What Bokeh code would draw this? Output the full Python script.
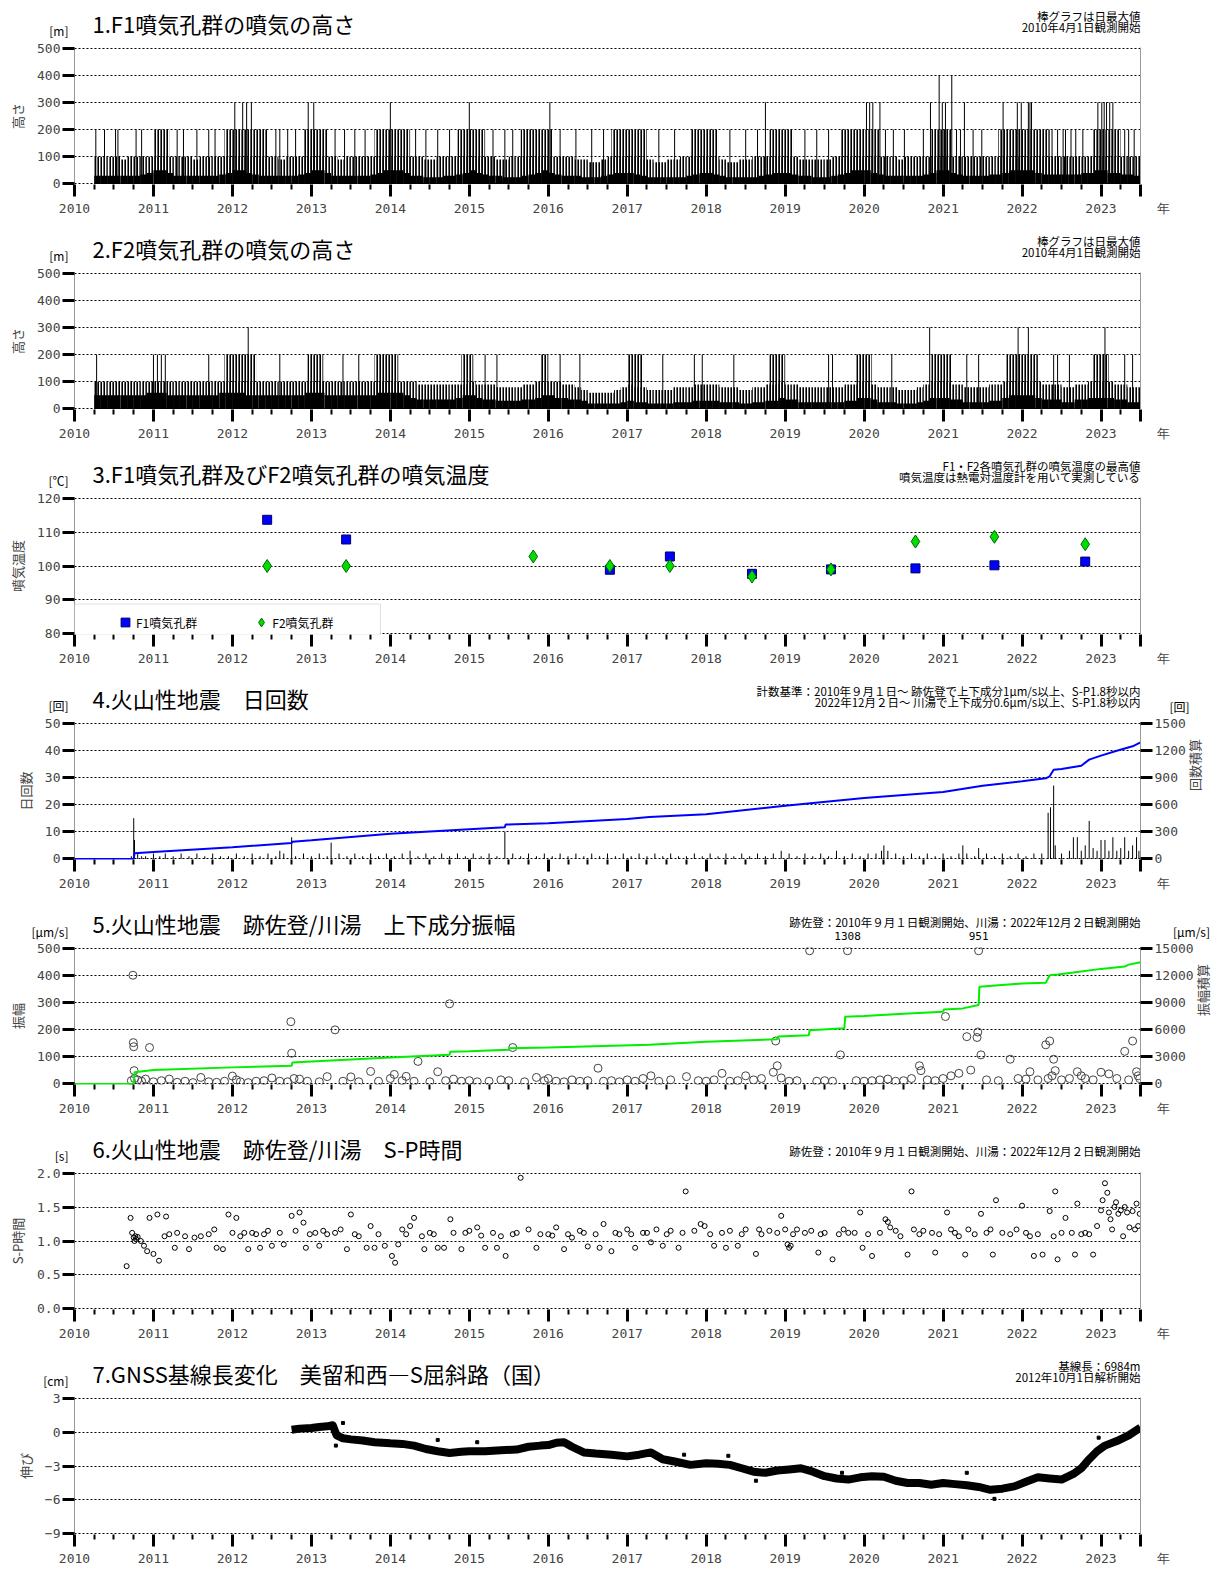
import math
import numpy as np
from bokeh.plotting import figure
from bokeh.models import (Range1d, FixedTicker, LinearAxis, Legend, LegendItem,
                          BoxAnnotation, PrintfTickFormatter)
from bokeh.embed import file_html
from bokeh.resources import INLINE
from bokeh.core.properties import value

JP = "Noto Sans CJK JP"
MONO = "DejaVu Sans Mono"
X0, X1 = 2010.0, 2023.5
YEARS = list(range(2010, 2024))
QUARTERS = [y + q / 4 for y in range(2010, 2024) for q in (1, 2, 3) if y + q / 4 < 2023.5]

# ---------------- data ----------------
MONTH0 = 2010.25   # monthly series start (2010-04), 159 months
f1_mass = [30, 30, 30, 30, 30, 30, 30, 35, 40,
           50, 50, 40, 30, 30, 30, 30, 30, 30, 30, 35, 40,
           50, 50, 40, 35, 30, 30, 30, 30, 30, 30, 35, 40,
           50, 50, 40, 30, 30, 30, 30, 30, 30, 35, 40, 50,
           50, 50, 40, 30, 30, 25, 25, 25, 30, 30, 35, 40,
           50, 40, 35, 30, 30, 25, 25, 25, 30, 35, 40, 50,
           40, 35, 30, 30, 30, 25, 25, 25, 30, 35, 40, 40,
           40, 35, 30, 25, 25, 25, 25, 25, 25, 30, 35, 40,
           40, 35, 30, 25, 25, 25, 25, 25, 30, 35, 40, 40,
           40, 35, 30, 30, 25, 25, 25, 30, 35, 40, 50, 50,
           50, 40, 35, 30, 30, 30, 30, 30, 30, 35, 40, 50,
           50, 40, 35, 30, 30, 30, 30, 35, 35, 40, 50, 50,
           50, 50, 40, 35, 35, 35, 35, 35, 35, 40, 40, 50,
           50, 40, 40, 35, 35, 30]
f1_upper = [100, 100, 100, 100, 90, 100, 100, 100, 100,
            100, 100, 100, 100, 100, 100, 90, 100, 100, 100, 100, 100,
            100, 100, 100, 100, 100, 100, 100, 90, 100, 100, 100, 100,
            100, 100, 100, 100, 90, 100, 100, 100, 100, 100, 100, 100,
            100, 100, 100, 100, 100, 90, 90, 100, 100, 100, 100, 100,
            100, 100, 100, 100, 90, 90, 100, 100, 100, 100, 100, 100,
            100, 100, 100, 100, 90, 90, 80, 80, 90, 100, 100, 100,
            100, 100, 90, 90, 80, 80, 90, 90, 100, 100, 100, 100,
            100, 100, 90, 80, 80, 90, 90, 100, 100, 100, 100, 100,
            100, 100, 90, 90, 90, 90, 90, 100, 100, 100, 100, 100,
            100, 100, 100, 100, 100, 90, 100, 100, 100, 100, 100, 100,
            100, 100, 100, 100, 100, 100, 100, 100, 100, 100, 100, 100,
            100, 100, 100, 100, 100, 100, 100, 100, 100, 100, 100, 100,
            100, 100, 100, 100, 100, 100]
f1_cluster_start = [2011.0, 2011.9, 2012.9, 2013.8, 2014.85, 2015.65, 2016.8, 2017.8,
                    2018.8, 2019.7, 2020.85, 2021.7, 2022.9]
f1_cluster_end = [2011.2, 2012.45, 2013.2, 2014.25, 2015.2, 2016.05, 2017.25, 2018.15,
                  2019.1, 2020.2, 2021.1, 2022.35, 2023.25]
f1_200 = [2010.27, 2010.38, 2010.52, 2010.55, 2010.78, 2010.85, 2011.3, 2011.38, 2011.55,
          2011.7, 2011.78, 2012.55, 2012.6, 2012.7, 2012.8, 2013.3, 2013.42, 2013.55, 2013.68,
          2014.32, 2014.45, 2014.6, 2014.75, 2015.3, 2015.45, 2015.55, 2016.15, 2016.35,
          2016.55, 2016.7, 2017.4, 2017.6, 2018.3, 2018.5, 2018.65, 2019.25, 2019.4, 2019.55,
          2020.27, 2020.37, 2020.51, 2020.75, 2021.17, 2021.22, 2021.38, 2021.49, 2022.38,
          2022.45, 2022.52, 2022.55, 2022.62, 2022.68, 2022.77, 2023.3, 2023.35, 2023.42]
f1_300 = [2012.03, 2012.13, 2012.18, 2012.24, 2012.96, 2013.03, 2014.0, 2015.0, 2016.02,
          2018.75, 2020.03, 2020.07, 2020.11, 2020.2, 2020.84, 2020.99, 2021.03, 2021.27,
          2021.76, 2021.94, 2021.99, 2022.08, 2022.1, 2022.12, 2022.96, 2023.01, 2023.04,
          2023.07, 2023.11, 2023.15]
f1_400 = [2020.95, 2021.11]

f2_mass = [50, 50, 50, 50, 50, 50, 50, 50, 60,
           60, 60, 50, 50, 50, 50, 50, 50, 50, 50, 60, 60,
           60, 60, 50, 50, 50, 50, 50, 50, 50, 50, 50, 60,
           60, 60, 50, 50, 50, 50, 50, 50, 50, 50, 60, 60,
           60, 60, 50, 40, 35, 35, 35, 35, 35, 35, 40, 50,
           50, 40, 35, 35, 30, 30, 30, 30, 35, 35, 40, 50,
           50, 40, 40, 35, 35, 30, 20, 20, 20, 20, 20, 25,
           30, 25, 25, 20, 20, 20, 20, 25, 25, 25, 30, 30,
           30, 30, 25, 25, 25, 20, 20, 25, 25, 30, 30, 40,
           35, 35, 25, 25, 25, 25, 25, 25, 25, 30, 30, 40,
           40, 35, 25, 25, 25, 20, 20, 20, 25, 30, 40, 40,
           40, 35, 35, 25, 25, 25, 25, 30, 30, 40, 50, 50,
           50, 50, 40, 35, 35, 35, 25, 25, 35, 35, 40, 40,
           40, 40, 35, 35, 25, 25]
f2_upper = [100] * 9 + [100] * 12 + [100] * 12 + [100] * 12 + [100, 100, 100, 100] + [90] * 8 + \
           [100, 90, 90, 90, 80, 80, 80, 80, 90, 90, 100, 100] + \
           [100, 100, 90, 90, 80, 70, 60, 60, 60, 60, 70, 80] + \
           [90, 80, 80, 70, 70, 70, 70, 80, 80, 80, 90, 90] + \
           [90, 90, 80, 80, 80, 70, 70, 80, 80, 90, 90, 100] + \
           [90, 90, 80, 80, 80, 80, 80, 80, 80, 90, 90, 100] + \
           [100, 90, 80, 80, 80, 70, 70, 70, 80, 90, 100, 100] + \
           [100, 90, 90, 80, 80, 80, 80, 90, 90, 100, 100, 100] + \
           [100, 100, 100, 90, 90, 90, 80, 80, 90, 90, 100, 100] + \
           [100, 100, 90, 90, 80, 80]
f2_cluster_start = [2011.9, 2012.95, 2013.8, 2014.9, 2015.9, 2017.0, 2018.8, 2019.9, 2020.85,
                    2021.8, 2022.9]
f2_cluster_end = [2012.3, 2013.15, 2014.1, 2015.05, 2016.0, 2017.2, 2019.0, 2020.1, 2021.1,
                  2022.2, 2023.1]
f2_200 = [2010.28, 2011.0, 2011.05, 2011.1, 2011.15, 2011.7, 2012.6, 2013.4, 2013.6, 2015.2,
          2015.35, 2016.15, 2016.4, 2017.45, 2017.85, 2017.95, 2018.35, 2019.55, 2019.6,
          2020.35, 2021.3, 2021.45, 2022.4, 2022.45, 2022.6, 2023.3, 2023.4]
f2_300 = [2012.2, 2020.83, 2021.95, 2022.08, 2023.05]

t_year_f1 = [2012.44, 2013.44, 2016.78, 2017.54, 2018.58, 2019.58, 2020.65, 2021.65, 2022.8]
t_f1 = [113.6, 107.8, 98.9, 102.8, 97.7, 99.0, 99.3, 100.2, 101.3]
t_year_f2 = [2012.44, 2013.44, 2015.81, 2016.78, 2017.54, 2018.58, 2019.58, 2020.65, 2021.65, 2022.8]
t_f2 = [100.0, 100.0, 102.8, 100.0, 100.0, 96.9, 99.0, 107.2, 108.6, 106.4]

cnt_pairs = [(2010.72, 1), (2010.75, 15), (2010.76, 7), (2010.8, 2), (2010.85, 1), (2010.9, 1),
             (2011.0, 2), (2011.08, 1), (2011.15, 2), (2011.25, 1), (2011.35, 2), (2011.45, 1),
             (2011.55, 2), (2011.65, 1), (2011.75, 2), (2011.85, 1), (2011.95, 1), (2012.05, 2),
             (2012.15, 1), (2012.25, 2), (2012.35, 1), (2012.45, 2), (2012.55, 1), (2012.6, 3),
             (2012.65, 2), (2012.75, 8), (2012.8, 1), (2012.9, 2), (2013.0, 1), (2013.1, 2),
             (2013.2, 1), (2013.25, 6), (2013.35, 2), (2013.45, 1), (2013.55, 2), (2013.65, 1),
             (2013.75, 2), (2013.85, 1), (2013.95, 2), (2014.05, 1), (2014.15, 2), (2014.25, 3),
             (2014.35, 1), (2014.45, 2), (2014.55, 1), (2014.65, 2), (2014.75, 1), (2014.85, 2),
             (2014.95, 1), (2015.05, 2), (2015.15, 1), (2015.25, 2), (2015.35, 1), (2015.45, 10),
             (2015.55, 2), (2015.65, 1), (2015.75, 2), (2015.85, 1), (2015.95, 2), (2016.05, 1),
             (2016.15, 2), (2016.25, 1), (2016.35, 2), (2016.45, 1), (2016.55, 2), (2016.65, 1),
             (2016.75, 2), (2016.85, 1), (2016.95, 2), (2017.05, 1), (2017.15, 2), (2017.25, 1),
             (2017.35, 2), (2017.45, 1), (2017.55, 2), (2017.65, 1), (2017.75, 1), (2017.85, 2),
             (2017.95, 1), (2018.05, 2), (2018.15, 1), (2018.25, 2), (2018.35, 1), (2018.45, 2),
             (2018.55, 1), (2018.65, 2), (2018.75, 1), (2018.85, 2), (2018.95, 3), (2019.05, 2),
             (2019.15, 1), (2019.25, 2), (2019.35, 1), (2019.45, 2), (2019.55, 1), (2019.65, 3),
             (2019.75, 1), (2019.85, 2), (2019.95, 1), (2020.05, 2), (2020.15, 2), (2020.22, 3),
             (2020.25, 5), (2020.3, 3), (2020.4, 2), (2020.5, 1), (2020.6, 2), (2020.7, 1),
             (2020.8, 2), (2020.9, 1), (2021.0, 2), (2021.1, 1), (2021.2, 2), (2021.25, 5),
             (2021.3, 2), (2021.4, 1), (2021.45, 4), (2021.55, 2), (2021.65, 1), (2021.75, 2),
             (2021.85, 1), (2021.95, 2), (2022.05, 1), (2022.15, 2), (2022.25, 2), (2022.33, 17),
             (2022.36, 19), (2022.4, 27), (2022.42, 5), (2022.5, 2), (2022.6, 3), (2022.65, 8),
             (2022.7, 8), (2022.75, 3), (2022.8, 5), (2022.85, 14), (2022.9, 4), (2022.95, 3),
             (2023.0, 7), (2023.05, 7), (2023.1, 3), (2023.15, 8), (2023.2, 3), (2023.25, 4),
             (2023.3, 8), (2023.35, 3), (2023.4, 5), (2023.45, 8), (2023.48, 3)]
cnt_year = [a for a, b in cnt_pairs]
cnt_val = [b for a, b in cnt_pairs]
cum4_year = [2010.0, 2010.75, 2010.76, 2011.0, 2012.0, 2012.75, 2012.76, 2013.0, 2014.0, 2015.0,
             2015.45, 2015.46, 2016.0, 2017.0, 2017.28, 2018.0, 2019.0, 2020.0, 2021.0, 2021.5,
             2022.0, 2022.3, 2022.35, 2022.4, 2022.5, 2022.75, 2022.85, 2023.0, 2023.2, 2023.4,
             2023.5]
cum4_val = [0, 0, 62, 77, 129, 176, 191, 206, 279, 328, 350, 380, 395, 440, 463, 493, 588, 673,
            739, 809, 857, 890, 912, 985, 993, 1029, 1096, 1140, 1195, 1243, 1287]

amp_pairs = [(2010.72, 12), (2010.74, 400), (2010.745, 152), (2010.75, 137), (2010.755, 49),
             (2010.76, 20), (2010.8, 15), (2010.85, 10), (2010.9, 18), (2010.95, 134), (2011.0, 8),
             (2011.1, 12), (2011.2, 18), (2011.3, 6), (2011.4, 10), (2011.5, 5), (2011.6, 24),
             (2011.7, 8), (2011.8, 6), (2011.9, 10), (2012.0, 29), (2012.05, 15), (2012.1, 8),
             (2012.2, 5), (2012.3, 10), (2012.4, 12), (2012.5, 22), (2012.6, 10), (2012.7, 8),
             (2012.74, 229), (2012.75, 113), (2012.78, 20), (2012.85, 18), (2012.95, 10),
             (2013.1, 8), (2013.2, 27), (2013.3, 199), (2013.4, 10), (2013.5, 26), (2013.6, 8),
             (2013.75, 46), (2013.85, 10), (2014.0, 20), (2014.05, 35), (2014.15, 12),
             (2014.2, 28), (2014.3, 10), (2014.35, 83), (2014.5, 8), (2014.6, 45), (2014.7, 12),
             (2014.75, 295), (2014.8, 18), (2014.9, 10), (2015.0, 12), (2015.1, 8), (2015.25, 10),
             (2015.4, 15), (2015.5, 12), (2015.55, 134), (2015.7, 8), (2015.85, 24), (2015.95, 12),
             (2016.0, 20), (2016.1, 10), (2016.2, 8), (2016.3, 15), (2016.4, 10), (2016.5, 12),
             (2016.63, 58), (2016.7, 10), (2016.8, 12), (2016.9, 8), (2017.0, 15), (2017.1, 10),
             (2017.2, 20), (2017.3, 30), (2017.4, 10), (2017.55, 15), (2017.75, 27), (2017.9, 12),
             (2018.0, 10), (2018.1, 15), (2018.2, 39), (2018.3, 10), (2018.4, 12), (2018.5, 30),
             (2018.6, 15), (2018.7, 20), (2018.85, 43), (2018.88, 158), (2018.9, 67),
             (2018.95, 22), (2019.05, 10), (2019.15, 12), (2019.31, 496), (2019.4, 10),
             (2019.5, 12), (2019.6, 10), (2019.7, 107), (2019.79, 1308), (2019.9, 12),
             (2020.0, 10), (2020.1, 12), (2020.2, 15), (2020.3, 18), (2020.4, 10), (2020.5, 12),
             (2020.6, 20), (2020.7, 67), (2020.72, 49), (2020.8, 15), (2020.9, 12), (2021.0, 20),
             (2021.03, 248), (2021.1, 30), (2021.2, 39), (2021.3, 174), (2021.35, 51),
             (2021.43, 171), (2021.44, 191), (2021.45, 951), (2021.48, 107), (2021.55, 15),
             (2021.7, 12), (2021.85, 91), (2021.95, 20), (2022.05, 18), (2022.1, 45),
             (2022.2, 15), (2022.3, 144), (2022.33, 20), (2022.35, 158), (2022.38, 30),
             (2022.4, 91), (2022.42, 49), (2022.5, 15), (2022.6, 20), (2022.7, 45), (2022.75, 30),
             (2022.8, 20), (2022.9, 15), (2023.0, 43), (2023.1, 37), (2023.2, 20), (2023.3, 120),
             (2023.35, 15), (2023.4, 158), (2023.45, 45), (2023.47, 30), (2023.49, 20)]
amp_year = [a for a, b in amp_pairs]
amp_val = [b for a, b in amp_pairs]
cum5_year = [2010.0, 2010.75, 2010.76, 2011.0, 2012.0, 2012.75, 2012.76, 2013.0, 2014.0, 2014.75,
             2014.76, 2015.0, 2015.5, 2015.51, 2016.0, 2017.28, 2018.0, 2018.9, 2018.91, 2019.3,
             2019.31, 2019.75, 2019.76, 2020.0, 2020.5, 2021.0, 2021.01, 2021.25, 2021.45,
             2021.46, 2022.0, 2022.3, 2022.35, 2022.45, 2022.65, 2023.0, 2023.3, 2023.35, 2023.5]
cum5_val = [0, 0, 1280, 1536, 1830, 2010, 2380, 2490, 2930, 3220, 3550, 3620, 3770, 3950, 4020,
            4320, 4650, 4940, 5230, 5380, 5930, 6150, 7430, 7500, 7760, 7980, 8230, 8340, 8710,
            10720, 11090, 11160, 12000, 12070, 12290, 12700, 12960, 13170, 13430]

sp_pairs = [(2010.66, 0.63), (2010.71, 1.34), (2010.73, 1.12), (2010.75, 1.05), (2010.76, 1.0),
            (2010.77, 1.07), (2010.78, 1.03), (2010.8, 1.06), (2010.84, 1.0), (2010.88, 0.93),
            (2010.92, 0.85), (2010.95, 1.34), (2011.0, 0.81), (2011.05, 1.39), (2011.07, 0.71),
            (2011.14, 1.07), (2011.16, 1.36), (2011.2, 1.1), (2011.27, 0.9), (2011.4, 1.07),
            (2011.45, 0.88), (2011.6, 1.07), (2011.77, 1.17), (2011.8, 0.9), (2011.88, 0.88),
            (2011.95, 1.39), (2012.0, 1.12), (2012.05, 1.34), (2012.15, 1.12), (2012.2, 0.88),
            (2012.3, 1.1), (2012.35, 0.9), (2012.45, 1.15), (2012.5, 0.93), (2012.75, 1.37),
            (2012.8, 1.15), (2012.85, 1.42), (2012.9, 1.27), (2012.93, 0.9), (2013.05, 1.12),
            (2013.1, 0.93), (2013.2, 1.1), (2013.37, 1.17), (2013.45, 0.88), (2013.5, 1.39),
            (2013.6, 1.07), (2013.75, 1.22), (2013.8, 0.9), (2013.93, 0.93), (2014.02, 0.78),
            (2014.06, 0.68), (2014.1, 0.95), (2014.15, 1.17), (2014.25, 1.22), (2014.3, 1.34),
            (2014.4, 1.07), (2014.43, 0.88), (2014.55, 1.1), (2014.68, 0.9), (2014.76, 1.32),
            (2014.8, 1.12), (2014.9, 0.88), (2015.0, 1.15), (2015.1, 1.2), (2015.2, 0.9),
            (2015.3, 1.12), (2015.4, 1.07), (2015.46, 0.78), (2015.55, 1.1), (2015.65, 1.93),
            (2015.75, 1.17), (2015.85, 0.9), (2016.0, 1.1), (2016.1, 1.2), (2016.2, 0.88),
            (2016.3, 1.05), (2016.4, 1.15), (2016.5, 0.92), (2016.6, 1.1), (2016.7, 1.25),
            (2016.8, 0.85), (2016.9, 1.1), (2017.0, 1.17), (2017.1, 0.9), (2017.2, 1.12),
            (2017.3, 0.98), (2017.37, 1.17), (2017.45, 0.93), (2017.55, 1.15), (2017.65, 0.9),
            (2017.74, 1.73), (2017.85, 1.15), (2017.93, 1.25), (2017.98, 1.22), (2018.1, 0.93),
            (2018.2, 1.12), (2018.3, 1.15), (2018.4, 0.93), (2018.5, 1.17), (2018.63, 0.81),
            (2018.67, 1.17), (2018.8, 1.15), (2018.95, 1.37), (2019.0, 1.17), (2019.03, 0.95),
            (2019.05, 0.9), (2019.07, 0.93), (2019.15, 1.17), (2019.33, 1.15), (2019.42, 0.83),
            (2019.5, 1.12), (2019.6, 0.73), (2019.74, 1.17), (2019.88, 1.12), (2019.95, 1.42),
            (2019.98, 0.9), (2020.1, 0.78), (2020.27, 1.32), (2020.3, 1.28), (2020.33, 1.2),
            (2020.46, 1.07), (2020.55, 0.8), (2020.6, 1.73), (2020.63, 1.17), (2020.75, 1.15),
            (2020.86, 1.12), (2020.9, 0.83), (2021.05, 1.42), (2021.1, 1.17), (2021.2, 1.07),
            (2021.28, 0.8), (2021.32, 1.17), (2021.48, 1.4), (2021.6, 1.17), (2021.63, 0.8),
            (2021.67, 1.6), (2021.75, 1.12), (2021.93, 1.17), (2022.0, 1.52), (2022.1, 1.07),
            (2022.15, 0.78), (2022.26, 0.8), (2022.35, 1.44), (2022.4, 1.07), (2022.42, 1.73),
            (2022.45, 0.73), (2022.55, 1.34), (2022.63, 1.12), (2022.67, 0.8), (2022.7, 1.55),
            (2022.8, 1.12), (2022.9, 0.8), (2022.95, 1.22), (2023.0, 1.45), (2023.02, 1.6),
            (2023.05, 1.85), (2023.08, 1.71), (2023.1, 1.42), (2023.12, 1.32), (2023.14, 1.17),
            (2023.17, 1.5), (2023.19, 1.57), (2023.22, 1.4), (2023.25, 1.45), (2023.28, 1.07),
            (2023.3, 1.5), (2023.33, 1.42), (2023.36, 1.2), (2023.4, 1.44), (2023.43, 1.17),
            (2023.45, 1.55), (2023.47, 1.22), (2023.49, 1.4),
            (2011.3, 1.12), (2011.52, 1.05), (2011.7, 1.1), (2012.1, 1.07), (2012.25, 1.12),
            (2012.4, 1.1), (2012.6, 1.12), (2012.65, 0.95), (2012.98, 1.1), (2013.15, 1.15),
            (2013.3, 1.12), (2013.55, 1.1), (2013.7, 0.9), (2013.85, 1.1), (2014.2, 1.1),
            (2014.5, 1.12), (2014.6, 0.9), (2014.95, 1.12), (2015.15, 1.08), (2015.35, 0.9),
            (2015.6, 1.12), (2015.9, 1.1), (2016.05, 1.08), (2016.25, 1.1), (2016.45, 1.12),
            (2016.65, 0.9), (2016.85, 1.12), (2017.05, 1.1), (2017.25, 1.12), (2017.5, 1.1),
            (2017.7, 1.12), (2018.05, 1.1), (2018.25, 0.9), (2018.45, 1.1), (2018.7, 1.1),
            (2018.9, 1.12), (2019.1, 1.1), (2019.25, 1.12), (2019.45, 1.1), (2019.68, 1.1),
            (2019.8, 1.12), (2020.05, 1.1), (2020.2, 1.12), (2020.4, 1.15), (2020.7, 1.1),
            (2020.95, 1.1), (2021.15, 1.12), (2021.4, 1.1), (2021.55, 1.12), (2021.85, 1.1),
            (2022.05, 1.12), (2022.2, 1.1), (2022.5, 1.12), (2022.75, 1.1), (2022.85, 1.1)]
sp_year = [a for a, b in sp_pairs]
sp_sec = [b for a, b in sp_pairs]

gnss_year = [2012.75, 2012.85, 2013.0, 2013.1, 2013.2, 2013.27, 2013.32, 2013.4, 2013.5, 2013.65,
             2013.8, 2014.0, 2014.15, 2014.3, 2014.45, 2014.6, 2014.75, 2014.9, 2015.0, 2015.2,
             2015.4, 2015.6, 2015.75, 2015.9, 2016.0, 2016.1, 2016.2, 2016.3, 2016.45, 2016.6,
             2016.8, 2017.0, 2017.15, 2017.3, 2017.45, 2017.6, 2017.8, 2018.0, 2018.15, 2018.3,
             2018.45, 2018.6, 2018.75, 2018.9, 2019.05, 2019.2, 2019.35, 2019.5, 2019.65, 2019.8,
             2019.95, 2020.1, 2020.25, 2020.4, 2020.55, 2020.7, 2020.85, 2021.0, 2021.15, 2021.3,
             2021.45, 2021.6, 2021.75, 2021.9, 2022.05, 2022.2, 2022.35, 2022.5, 2022.65, 2022.75,
             2022.85, 2022.95, 2023.05, 2023.2, 2023.35, 2023.5]
gnss_cm = [0.2, 0.3, 0.35, 0.45, 0.5, 0.6, -0.3, -0.55, -0.65, -0.75, -0.9, -1.0, -1.05, -1.2,
           -1.5, -1.7, -1.85, -1.75, -1.7, -1.7, -1.6, -1.55, -1.3, -1.2, -1.15, -0.95, -0.9, -1.3,
           -1.8, -1.9, -2.0, -2.15, -2.0, -1.8, -2.4, -2.6, -2.9, -2.75, -2.8, -2.9, -3.2, -3.5,
           -3.6, -3.4, -3.3, -3.2, -3.5, -3.9, -4.1, -4.2, -4.0, -3.9, -3.95, -4.3, -4.5, -4.5,
           -4.65, -4.5, -4.6, -4.7, -4.85, -5.1, -5.0, -4.8, -4.4, -4.0, -4.1, -4.2, -3.7, -3.2,
           -2.4, -1.7, -1.2, -0.8, -0.3, 0.4]
gnss_out_year = [2013.31, 2013.4, 2014.6, 2015.1, 2017.72, 2018.28, 2018.63, 2019.72, 2021.3,
                 2021.65, 2022.97]
gnss_out_cm = [-1.2, 0.8, -0.7, -0.9, -2.0, -2.1, -4.3, -3.6, -3.6, -5.9, -0.5]

# ---------------- layout constants (page pixels; the page has no margin) ----------------
FRAME_L, FRAME_W, FRAME_H = 74, 1066, 137
FIG_W = 1226
STRIP_H, TOP_B, BOT_B = 33, 6, 49
TICK_FONT = "13px"


def yr2px(yr):
    return FRAME_L + (yr - X0) * FRAME_W / (X1 - X0)


def make_strip(h=STRIP_H):
    s = figure(width=FIG_W, height=h, x_range=Range1d(0, FIG_W),
               y_range=Range1d(0, h), output_backend="svg", toolbar_location=None,
               min_border=0, x_axis_type=None, y_axis_type=None)
    s.outline_line_color = None
    return s


def stext(s, x, up, text, size="12px", align="left", font=JP, baseline="middle"):
    s.text(x=[x], y=[up], text=[text], text_font=value(font), text_font_size=value(size),
           text_align=align, text_baseline=baseline, text_color="black")


def header(s, title, unit, notes, note_up=(25.5, 15), unit_up=11):
    stext(s, 92, 19, title, size="22px")
    stext(s, 68, unit_up, unit, size="12px", align="right")
    for t, u in zip(notes, note_up):
        stext(s, 1140, u, t, size="11.5px", align="right")


def make_fig(lo, hi, ticks, ylabel, bottom=BOT_B, top=TOP_B, fmt=None):
    d = (hi - lo) * 0.004
    p = figure(width=FIG_W, height=top + FRAME_H + bottom, x_range=Range1d(X0, X1),
               y_range=Range1d(lo - d, hi + d), output_backend="svg", toolbar_location=None,
               min_border_left=FRAME_L, min_border_right=FIG_W - FRAME_L - FRAME_W,
               min_border_top=top, min_border_bottom=bottom)
    p.outline_line_color = None
    xa = p.xaxis[0]
    xa.ticker = FixedTicker(ticks=YEARS + [X1], minor_ticks=QUARTERS)
    xa.major_label_overrides = {X1: "\u00a0" * 6 + "年"}
    xa.axis_line_color = None
    xa.major_tick_line_width = 3
    xa.major_tick_in = 0
    xa.major_tick_out = 12
    xa.minor_tick_in = 0
    xa.minor_tick_out = 5
    xa.minor_tick_line_width = 2
    xa.major_label_text_font = MONO
    xa.major_label_text_font_size = TICK_FONT
    xa.major_label_standoff = 4
    ya = p.yaxis[0]
    ya.ticker = FixedTicker(ticks=ticks)
    ya.axis_line_color = "#999999"
    ya.major_tick_line_width = 3
    ya.major_tick_in = 0
    ya.major_tick_out = 12
    ya.minor_tick_line_color = None
    ya.major_label_text_font = MONO
    ya.major_label_text_font_size = TICK_FONT
    ya.major_label_standoff = 2
    ya.axis_label = ylabel
    ya.axis_label_text_font = JP
    ya.axis_label_text_font_size = "13px"
    ya.axis_label_text_font_style = "normal"
    ya.axis_label_standoff = 7
    if fmt is not None:
        ya.formatter = fmt
    p.xgrid.grid_line_color = None
    p.ygrid.ticker = ya.ticker
    p.ygrid.grid_line_color = "black"
    p.ygrid.grid_line_dash = "2 2"
    p.ygrid.grid_line_width = 1
    return p


def right_line(p):
    ax = LinearAxis(ticker=FixedTicker(ticks=[]), axis_line_color="#999999",
                    major_tick_line_color=None, minor_tick_line_color=None)
    p.add_layout(ax, "right")


def right_axis(p, name, lo, hi, ticks, label):
    d = (hi - lo) * 0.004
    p.extra_y_ranges = {name: Range1d(lo - d, hi + d)}
    ax = LinearAxis(y_range_name=name, ticker=FixedTicker(ticks=ticks), axis_line_color="#999999",
                    major_tick_line_width=3, major_tick_in=0, major_tick_out=12,
                    minor_tick_line_color=None, major_label_text_font=MONO,
                    major_label_text_font_size=TICK_FONT, major_label_standoff=2,
                    axis_label=label, axis_label_text_font=JP, axis_label_text_font_size="13px",
                    axis_label_text_font_style="normal", axis_label_standoff=6,
                    axis_label_orientation=math.pi / 2)
    p.add_layout(ax, "right")


month_x = [MONTH0 + (i + 0.5) / 12.0 for i in range(len(f1_mass))]
HATCH = dict(fill_color=None, line_color=None, hatch_pattern="vertical_line",
             hatch_color="black", hatch_scale=3, hatch_weight=2.2)

roots = []


def plume_panel(title, mass, upper, cs, ce, s200, s300, s400, strip_h=STRIP_H):
    s = make_strip(strip_h)
    header(s, title, "[m]", ["棒グラフは日最大値", "2010年4月1日観測開始"])
    p = make_fig(0, 500, [0, 100, 200, 300, 400, 500], "高さ")
    p.vbar(x=month_x, top=upper, width=1 / 12.0, bottom=0, **HATCH)
    p.quad(left=cs, right=ce, bottom=0, top=200, **HATCH)
    p.vbar(x=month_x, top=mass, width=1 / 12.0, bottom=0, fill_color="black", line_color=None)
    for xs, h in ((s200, 200), (s300, 300), (s400, 400)):
        p.segment(x0=xs, y0=0, x1=xs, y1=[h] * len(xs), line_color="black", line_width=1)
    right_line(p)
    return [s, p]


roots += plume_panel("1.F1噴気孔群の噴気の高さ", f1_mass, f1_upper, f1_cluster_start,
                     f1_cluster_end, f1_200, f1_300, f1_400, strip_h=STRIP_H + 8)
roots += plume_panel("2.F2噴気孔群の噴気の高さ", f2_mass, f2_upper, f2_cluster_start,
                     f2_cluster_end, f2_200, f2_300, [])

# Panel 3
s3 = make_strip()
header(s3, "3.F1噴気孔群及びF2噴気孔群の噴気温度", "[℃]",
       ["F1・F2各噴気孔群の噴気温度の最高値", "噴気温度は熱電対温度計を用いて実測している"],
       note_up=(25.5, 14.5))
p3 = make_fig(80, 120, [80, 90, 100, 110, 120], "噴気温度")
p3.add_layout(BoxAnnotation(left=X0, right=X0 + (380 - FRAME_L) * (X1 - X0) / FRAME_W,
                            bottom=79.8, top=88.8, fill_color="white", fill_alpha=1,
                            line_color="#999999", line_width=1))
r1 = p3.scatter(t_year_f1, t_f1, marker="square", size=9, fill_color="#0000ff",
                line_color="#000066", line_width=1)
r2 = p3.scatter(t_year_f2, t_f2, marker="diamond", size=13, fill_color="#00dd00",
                line_color="#006600", line_width=1)
leg = Legend(items=[LegendItem(label="F1噴気孔群", renderers=[r1]),
                    LegendItem(label="F2噴気孔群", renderers=[r2])],
             location=(40, 1), orientation="horizontal", background_fill_alpha=0,
             border_line_color=None, label_text_font=JP, label_text_font_size="12px",
             label_text_color="black", glyph_width=22, glyph_height=22, label_standoff=0,
             spacing=53, padding=3, margin=0)
p3.add_layout(leg)
right_line(p3)
roots += [s3, p3]

# Panel 4
s4 = make_strip()
header(s4, "4.火山性地震　日回数", "[回]",
       ["計数基準：2010年９月１日～ 跡佐登で上下成分1μm/s以上、S-P1.8秒以内",
        "2022年12月２日～ 川湯で上下成分0.6μm/s以上、S-P1.8秒以内"], note_up=(25.5, 15))
stext(s4, 1179, 10, "[回]", size="12px", align="center")
p4 = make_fig(0, 50, [0, 10, 20, 30, 40, 50], "日回数")
right_axis(p4, "cum", 0, 1500, [0, 300, 600, 900, 1200, 1500], "回数積算")
p4.segment(x0=cnt_year, y0=0, x1=cnt_year, y1=cnt_val, line_color="black", line_width=1)
p4.line(cum4_year, cum4_val, y_range_name="cum", line_color="#0000ff", line_width=2)
roots += [s4, p4]

# Panel 5
AMP_TOP = 500
s5 = make_strip()
header(s5, "5.火山性地震　跡佐登/川湯　上下成分振幅", "[μm/s]",
       ["跡佐登：2010年９月１日観測開始、川湯：2022年12月２日観測開始"], note_up=(20,),
       unit_up=10)
stext(s5, 1191, 10, "[μm/s]", size="12px", align="center")
for yr, v in zip(amp_year, amp_val):
    if v > AMP_TOP:
        stext(s5, yr2px(yr), 2, str(v), size="11px", align="center", font=MONO,
              baseline="bottom")
p5 = make_fig(0, AMP_TOP, [0, 100, 200, 300, 400, 500], "振幅")
right_axis(p5, "cum", 0, 15000, [0, 3000, 6000, 9000, 12000, 15000], "振幅積算")
amp_plot = np.minimum(np.array(amp_val, dtype=float), AMP_TOP - 10)
p5.scatter(amp_year, amp_plot, marker="circle", size=8, fill_color=None, line_color="#444444",
           line_width=1)
p5.line(cum5_year, cum5_val, y_range_name="cum", line_color="#00ee00", line_width=2)
roots += [s5, p5]

# Panel 6
s6 = make_strip()
header(s6, "6.火山性地震　跡佐登/川湯　S-P時間", "[s]",
       ["跡佐登：2010年９月１日観測開始、川湯：2022年12月２日観測開始"], note_up=(16,))
p6 = make_fig(0.0, 2.0, [0.0, 0.5, 1.0, 1.5, 2.0], "S-P時間",
              fmt=PrintfTickFormatter(format="%.1f"))
p6.scatter(sp_year, sp_sec, marker="circle", size=5, fill_color=None, line_color="black",
           line_width=1)
right_line(p6)
roots += [s6, p6]

# Panel 7
s7 = make_strip()
header(s7, "7.GNSS基線長変化　美留和西―S屈斜路（国）", "[cm]",
       ["基線長：6984m", "2012年10月1日解析開始"], note_up=(25.5, 15))
p7 = make_fig(-9, 3, [-9, -6, -3, 0, 3], "伸び", bottom=34)
p7.line(gnss_year, gnss_cm, line_color="black", line_width=8, line_join="round")
p7.scatter(gnss_out_year, gnss_out_cm, marker="square", size=3, color="black")
right_line(p7)
roots += [s7, p7]

open("out.html", "w").write(file_html(roots, INLINE))
